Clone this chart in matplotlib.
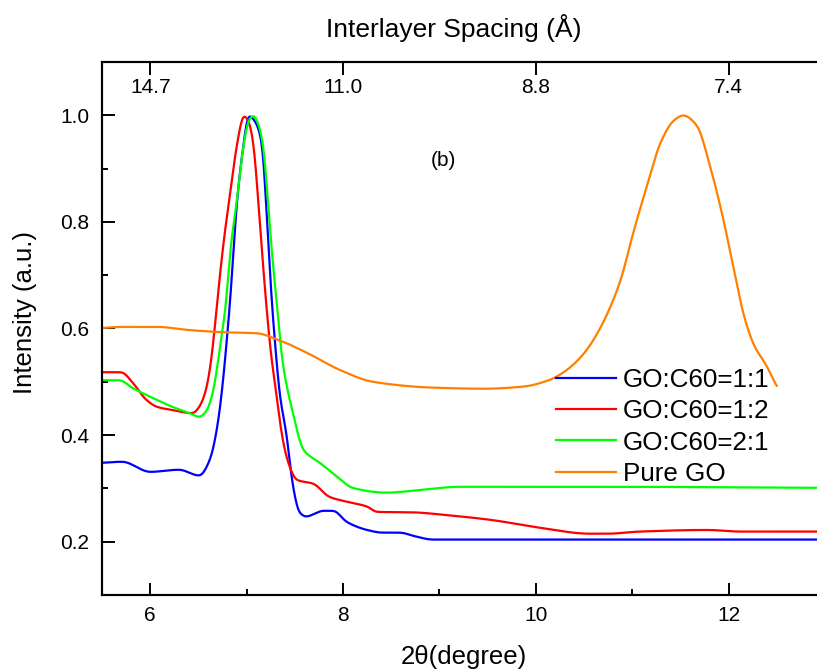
import numpy as np
import matplotlib
matplotlib.use("Agg")
import matplotlib.pyplot as plt
from matplotlib.ticker import MultipleLocator, FixedLocator, FixedFormatter

plt.rcParams['font.family'] = ['Liberation Sans', 'DejaVu Sans']

# XRD patterns (normalised intensity vs 2-theta in degrees)
go_c60_11_x = [5.50, 5.71, 6.00, 6.30, 6.51, 6.62, 6.70, 6.83, 6.90, 6.96, 7.02,
               7.10, 7.17, 7.20, 7.26, 7.31, 7.34, 7.42, 7.47, 7.55, 7.62, 7.70,
               7.79, 7.90, 8.04, 8.25, 8.41, 8.59, 8.75, 8.93, 10.0, 11.0, 12.0, 13.0]
go_c60_11_y = [0.348, 0.350, 0.331, 0.335, 0.324, 0.354, 0.420, 0.653, 0.840, 0.934, 1.000,
               0.985, 0.934, 0.840, 0.653, 0.540, 0.480, 0.395, 0.316, 0.254, 0.247, 0.252,
               0.258, 0.258, 0.237, 0.222, 0.217, 0.217, 0.210, 0.204, 0.204, 0.204, 0.204, 0.204]

go_c60_12_x = [5.50, 5.70, 5.82, 5.96, 6.07, 6.23, 6.44, 6.51, 6.58, 6.64, 6.69,
               6.75, 6.83, 6.90, 6.97, 7.03, 7.08, 7.12, 7.20, 7.26, 7.30, 7.34,
               7.42, 7.52, 7.69, 7.86, 8.04, 8.25, 8.35, 8.73, 9.07, 9.53, 10.05,
               10.56, 10.74, 11.08, 11.78, 12.12, 13.0]
go_c60_12_y = [0.518, 0.518, 0.498, 0.466, 0.453, 0.447, 0.441, 0.453, 0.485, 0.550, 0.640,
               0.745, 0.855, 0.945, 1.000, 0.985, 0.934, 0.840, 0.653, 0.540, 0.490, 0.430,
               0.355, 0.316, 0.309, 0.284, 0.275, 0.266, 0.256, 0.255, 0.250, 0.241, 0.226,
               0.215, 0.215, 0.219, 0.222, 0.219, 0.219]

go_c60_21_x = [5.50, 5.68, 5.82, 6.07, 6.23, 6.41, 6.51, 6.58, 6.65, 6.72, 6.79,
               6.83, 6.90, 6.96, 7.02, 7.07, 7.12, 7.18, 7.22, 7.26, 7.31, 7.37,
               7.48, 7.59, 7.76, 7.94, 8.10, 8.45, 8.80, 9.21, 10.0, 11.0, 12.0, 13.0]
go_c60_21_y = [0.503, 0.503, 0.488, 0.466, 0.453, 0.441, 0.434, 0.444, 0.479, 0.560, 0.653,
               0.747, 0.840, 0.934, 0.990, 1.000, 0.985, 0.934, 0.840, 0.747, 0.653, 0.540,
               0.442, 0.372, 0.348, 0.322, 0.301, 0.292, 0.297, 0.303, 0.303, 0.303, 0.302, 0.301]

pure_go_x = [5.50, 5.71, 6.07, 6.41, 6.76, 7.11, 7.31, 7.63, 7.97, 8.31, 8.94,
             9.46, 9.87, 10.15, 10.32, 10.46, 10.56, 10.66, 10.76, 10.88, 11.01,
             11.16, 11.29, 11.43, 11.53, 11.67, 11.81, 11.94, 12.05, 12.15, 12.26,
             12.40, 12.50]
pure_go_y = [0.601, 0.603, 0.603, 0.597, 0.593, 0.591, 0.580, 0.554, 0.522, 0.500, 0.489,
             0.487, 0.491, 0.504, 0.522, 0.545, 0.568, 0.598, 0.635, 0.691, 0.779,
             0.872, 0.947, 0.990, 1.000, 0.981, 0.903, 0.809, 0.715, 0.630, 0.570,
             0.528, 0.490]

series_labels = ['GO:C60=1:1', 'GO:C60=1:2', 'GO:C60=2:1', 'Pure GO']
series_colors = ['#0000FF', '#FF0000', '#00FF00', '#FF8000']

two_theta_ticks = [6, 8, 10, 12]
wavelength = 1.5406  # Cu K-alpha, angstrom


def smooth_curve(xs, ys, n=1500, sigma=0.018):
    xs = np.asarray(xs, float)
    ys = np.asarray(ys, float)
    t = np.linspace(xs[0], xs[-1], n)
    # monotone cubic (PCHIP-style) interpolation through the read points
    h = np.diff(xs)
    d = np.diff(ys) / h
    m = np.zeros_like(ys)
    for i in range(1, len(xs) - 1):
        if d[i - 1] * d[i] > 0:
            w1 = 2 * h[i] + h[i - 1]
            w2 = h[i] + 2 * h[i - 1]
            m[i] = (w1 + w2) / (w1 / d[i - 1] + w2 / d[i])
    m[0] = d[0]
    m[-1] = d[-1]
    idx = np.clip(np.searchsorted(xs, t) - 1, 0, len(xs) - 2)
    x0, x1 = xs[idx], xs[idx + 1]
    y0, y1 = ys[idx], ys[idx + 1]
    hh = x1 - x0
    s = (t - x0) / hh
    h00 = 2 * s**3 - 3 * s**2 + 1
    h10 = s**3 - 2 * s**2 + s
    h01 = -2 * s**3 + 3 * s**2
    h11 = s**3 - s**2
    y = h00 * y0 + h10 * hh * m[idx] + h01 * y1 + h11 * hh * m[idx + 1]
    # light gaussian smoothing to remove corners between read points
    dx = t[1] - t[0]
    k = int(4 * sigma / dx)
    kern = np.exp(-0.5 * (np.arange(-k, k + 1) * dx / sigma) ** 2)
    kern /= kern.sum()
    yp = np.concatenate([np.full(k, y[0]), y, np.full(k, y[-1])])
    y = np.convolve(yp, kern, mode='valid')
    return t, y


fig = plt.figure(figsize=(8.17, 6.70), dpi=100)
ax = fig.add_axes([102 / 817, 1 - 595 / 670, (825 - 102) / 817, (595 - 62) / 670])

data = [(go_c60_11_x, go_c60_11_y), (go_c60_12_x, go_c60_12_y),
        (go_c60_21_x, go_c60_21_y), (pure_go_x, pure_go_y)]
for (xs, ys), lab, col in zip(data, series_labels, series_colors):
    tx, ty = smooth_curve(xs, ys)
    ax.plot(tx, ty, color=col, lw=1.6, label=lab)

ax.set_xlim(5.5, 13.0)
ax.set_ylim(0.1, 1.1)
ax.xaxis.set_major_locator(FixedLocator(two_theta_ticks))
ax.xaxis.set_minor_locator(MultipleLocator(1))
ax.yaxis.set_major_locator(FixedLocator([0.2, 0.4, 0.6, 0.8, 1.0]))
ax.yaxis.set_minor_locator(MultipleLocator(0.1))
ax.tick_params(which='both', direction='in', width=1.4, labelsize=15, colors='black')
ax.tick_params(which='major', length=9)
ax.tick_params(which='minor', length=4.5)
ax.tick_params(axis='y', pad=9)
ax.tick_params(axis='x', pad=8)
ax.yaxis.set_major_formatter(FixedFormatter(['0.2', '0.4', '0.6', '0.8', '1.0']))
for sp in ax.spines.values():
    sp.set_linewidth(1.5)

ax.set_xlabel('2θ(degree)', fontsize=18.5, va='center')
ax.xaxis.set_label_coords(0.5, -0.116)
ax.set_ylabel('Intensity (a.u.)', fontsize=18.5, va='center')
ax.yaxis.set_label_coords(-0.106, 0.53)

# top axis: interlayer spacing from Bragg's law at the same 2-theta positions
top = ax.twiny()
top.set_xlim(ax.get_xlim())
top.xaxis.set_major_locator(FixedLocator(two_theta_ticks))
d_labels = ['%.1f' % (wavelength / (2 * np.sin(np.radians(t / 2)))) for t in two_theta_ticks]
top.xaxis.set_major_formatter(FixedFormatter(d_labels))
top.tick_params(direction='in', length=9, width=1.4, labelsize=15, pad=-25.5)
for sp in top.spines.values():
    sp.set_linewidth(1.5)
top.set_xlabel('Interlayer Spacing (Å)', fontsize=19, va='center')
top.xaxis.set_label_coords(0.487, 1.064)

ax.text(9.04, 0.916, '(b)', fontsize=15, ha='center', va='center')

ax.legend(loc='upper left', bbox_to_anchor=(556 / 817, 1 - 368 / 670),
          bbox_transform=fig.transFigure, frameon=False, fontsize=18.7,
          borderpad=0, borderaxespad=0, handlelength=2.3, handletextpad=0.27,
          labelspacing=0.28)

fig.savefig('out.png', dpi=100)
